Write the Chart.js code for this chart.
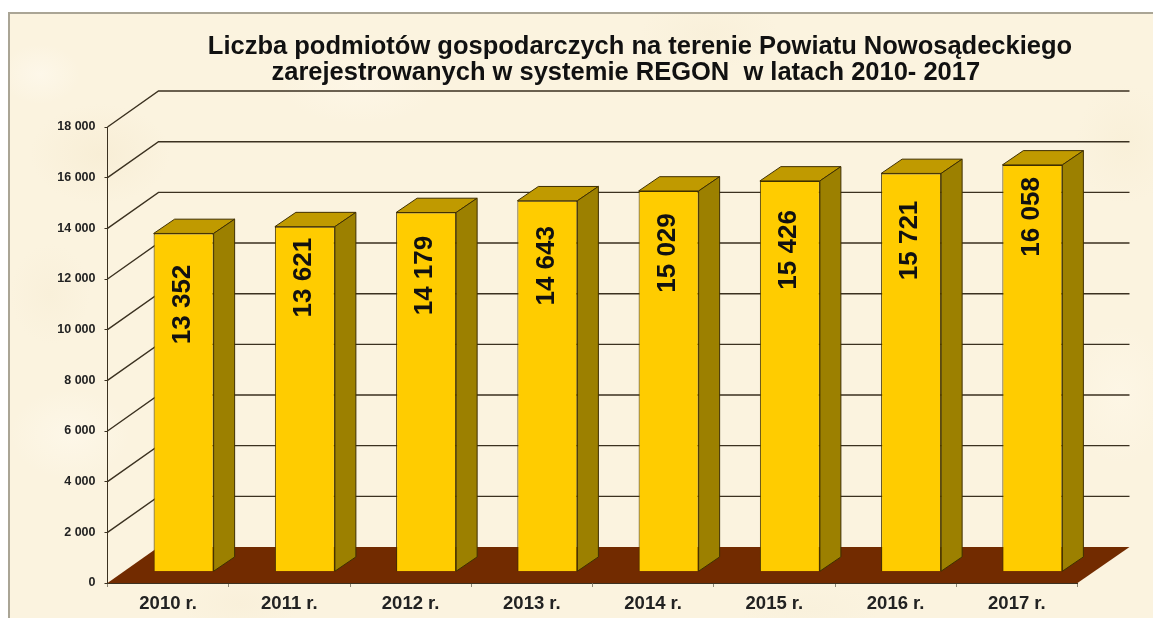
<!DOCTYPE html>
<html><head><meta charset="utf-8">
<script src="https://cdn.jsdelivr.net/npm/chart.js@4"></script>
<style>
html,body{margin:0;padding:0;background:#fff;width:1153px;height:618px;overflow:hidden}
#paper{position:absolute;left:8px;top:12px;width:1145px;height:606px;box-sizing:border-box;border-left:2px solid #aaa595;border-top:2px solid #aaa595;
background-color:#fbf3df;
background-image:
radial-gradient(ellipse 70px 50px at 90px 140px,#f8eed6 0,transparent 100%),
radial-gradient(ellipse 60px 45px at 60px 420px,#fdf7e8 0,transparent 100%),
radial-gradient(ellipse 80px 40px at 350px 70px,#fdf6e6 0,transparent 100%),
radial-gradient(ellipse 70px 35px at 700px 20px,#f9f0da 0,transparent 100%),
radial-gradient(ellipse 50px 60px at 1115px 130px,#f9f0d9 0,transparent 100%),
radial-gradient(ellipse 50px 70px at 1110px 380px,#fdf6e5 0,transparent 100%),
radial-gradient(ellipse 60px 30px at 230px 590px,#f9f0da 0,transparent 100%),
radial-gradient(ellipse 70px 25px at 800px 595px,#f9f1dc 0,transparent 100%),
radial-gradient(ellipse 40px 30px at 30px 60px,#fdf7e9 0,transparent 100%),
radial-gradient(ellipse 40px 50px at 40px 280px,#f9f0da 0,transparent 100%)}
canvas{position:absolute;left:0;top:0;filter:blur(0.45px)}
</style></head>
<body><div id="paper"></div><canvas id="c" width="1153" height="618"></canvas>
<script>
const categories=['2010 r.','2011 r.','2012 r.','2013 r.','2014 r.','2015 r.','2016 r.','2017 r.'];
const values=[13352,13621,14179,14643,15029,15426,15721,16058];
const titleLines=['Liczba podmiotów gospodarczych na terenie Powiatu Nowosądeckiego','zarejestrowanych w systemie REGON  w latach 2010- 2017\u00a0\u00a0\u00a0\u00a0'];
const yMax=18000, yStep=2000;
const fmt=v=>String(v).replace(/\B(?=(\d{3})+$)/g,' ');
// presentation: depth of the 3D box and manual label placement
const DEPTH={x:51,y:36}, BAR={dx:15.5,dy:11.3,sx:21,sy:14.3};
const labelDrop=[71,51,63,65,62,69,67,52];
const LINE='#3b3120', EDGE='#3f2f00';
const box3d={id:'box3d',
 afterLayout(c){const t=c.titleBlock;t.left=127;t.right=1153;t.top=34;},
 beforeDatasetsDraw(c){
  const x=c.scales.x,y=c.scales.y,g=c.ctx,L=x.left,R=x.right,y0=y.getPixelForValue(0);
  g.save();
  g.fillStyle='#722b00';g.beginPath();g.moveTo(L,y0);g.lineTo(L+DEPTH.x,y0-DEPTH.y);g.lineTo(R+DEPTH.x+1,y0-DEPTH.y);g.lineTo(R,y0);g.closePath();g.fill();
  g.strokeStyle=LINE;g.lineWidth=1.4;
  for(let v=yStep;v<=yMax;v+=yStep){const p=y.getPixelForValue(v);
   g.beginPath();g.moveTo(L,p);g.lineTo(L+DEPTH.x,p-DEPTH.y);g.lineTo(R+DEPTH.x+1,p-DEPTH.y);g.stroke();}
  g.restore();
  g.save();g.translate(BAR.dx,-BAR.dy);
 },
 afterDatasetsDraw(c){
  const g=c.ctx,els=c.getDatasetMeta(0).data;
  g.lineWidth=1;g.strokeStyle=EDGE;g.lineJoin='round';
  els.forEach(e=>{const l=e.x-e.width/2,r=e.x+e.width/2,t=e.y,b=e.base;
   g.fillStyle='#c09a00';g.beginPath();g.moveTo(l,t);g.lineTo(l+BAR.sx,t-BAR.sy);g.lineTo(r+BAR.sx,t-BAR.sy);g.lineTo(r,t);g.closePath();g.fill();g.stroke();
   g.fillStyle='#9c8000';g.beginPath();g.moveTo(r,t);g.lineTo(r+BAR.sx,t-BAR.sy);g.lineTo(r+BAR.sx,b-BAR.sy);g.lineTo(r,b);g.closePath();g.fill();g.stroke();
  });
  g.fillStyle='#111';g.font='bold 26px "Liberation Sans"';g.textAlign='center';g.textBaseline='middle';
  els.forEach((e,i)=>{g.save();g.translate(e.x-1,e.y+labelDrop[i]);g.rotate(-Math.PI/2);g.fillText(fmt(values[i]),0,0);g.restore();});
  g.restore();
 }};
new Chart(document.getElementById('c'),{
 type:'bar',
 data:{labels:categories,datasets:[{data:values,backgroundColor:'#ffcc00',borderColor:EDGE,borderWidth:1,barPercentage:0.495,categoryPercentage:1,clip:false}]},
 options:{responsive:false,animation:false,
  layout:{padding:{top:75,right:75.5,left:0,bottom:0}},
  plugins:{legend:{display:false},tooltip:{enabled:false},
   title:{display:true,text:titleLines,color:'#111',padding:0,font:{family:'"Liberation Sans"',weight:'bold',size:25.5,lineHeight:1.02}}},
  scales:{
   x:{afterFit(s){s.height=35},border:{color:LINE},
    grid:{drawOnChartArea:false,color:'#8c8674',tickLength:4},
    ticks:{color:'#222',padding:6,maxRotation:0,autoSkip:false,font:{family:'"Liberation Sans"',weight:'bold',size:18.5}}},
   y:{min:0,max:yMax,afterFit(s){s.width=107.5},border:{color:LINE},
    grid:{drawOnChartArea:false,color:LINE,tickLength:3},
    ticks:{stepSize:yStep,color:'#222',padding:9,callback:fmt,font:{family:'"Liberation Sans"',weight:'bold',size:12.5}}}
  }},
 plugins:[box3d]});
</script></body></html>
